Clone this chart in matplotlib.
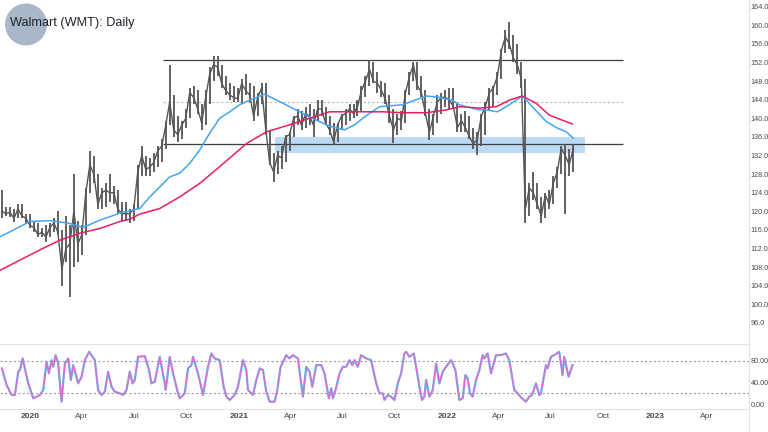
import matplotlib
matplotlib.use('Agg')
import matplotlib.pyplot as plt
import numpy as np
import pandas as pd
from matplotlib.patches import Ellipse
from matplotlib.lines import Line2D
from matplotlib.ticker import FormatStrFormatter

# ---------------- data (weekly bars) ----------------
first_week = '2019-11-13'

high = [
    124.5, 121, 121, 120.5, 121.5, 121.5, 119.5, 119.5,
    118, 117.5, 116.5, 117, 117.5, 118.5, 120, 116,
    119, 117, 128, 118, 117, 125, 133, 132,
    128, 125, 126, 128, 125.5, 124.5, 122, 122,
    120.5, 121.5, 130, 134, 132, 131.5, 132.5, 134,
    135.5, 139.5, 151.5, 145, 140.5, 139.5, 142, 146.5,
    147, 146, 143, 146, 151, 153.5, 153.5, 151.5,
    149, 147.5, 147, 146.5, 148.5, 149.5, 147.5, 147,
    145.5, 147.5, 147.5, 137.5, 132.5, 133, 134, 136.5,
    137, 140.5, 142, 141.5, 142.5, 143, 142, 144,
    144, 142.5, 140.5, 139, 139, 141, 142, 143,
    143, 144, 147, 149, 152.5, 152, 150, 148,
    147.5, 145, 142, 141, 141.5, 146, 150, 152,
    152, 149, 146, 142, 141, 145, 145.5, 146,
    146.5, 146.5, 143, 141, 141.5, 140.5, 138, 137,
    141, 143.5, 146.5, 147, 150, 155, 159, 160.8,
    158, 156, 152, 148.5, 126, 128.5, 126, 123,
    124, 124.5, 127.5, 129.5, 134, 134.5, 133.5, 134.5,
]
low = [
    118.5, 119, 118.8, 117.8, 118.5, 118.5, 117.5, 116.5,
    115.5, 114.5, 114.5, 113.5, 114.5, 115.5, 115, 104,
    109, 101.6, 108, 109, 110.5, 115, 124, 126,
    120.5, 120.5, 121, 122, 121.5, 119.5, 118, 118,
    117.5, 118, 120.5, 127.5, 127.5, 127.5, 128.5, 129.5,
    130.5, 133.5, 138.5, 136, 135, 135.5, 138, 140,
    143, 141, 137.5, 138.5, 143, 148, 149, 146.5,
    145, 144, 143.5, 143.5, 143, 145, 143.5, 139.5,
    140.5, 143, 136.5, 130, 126.3, 128, 129, 130.5,
    133, 136, 138.5, 137.5, 138, 138.5, 135.9, 139.5,
    140.5, 138.5, 136.5, 134.3, 135, 137.5, 138.5, 139.5,
    140, 140.5, 141.5, 144.5, 147, 147.5, 145.5, 144.5,
    143, 139, 134.7, 136.5, 137.5, 139, 145, 148,
    146, 144.5, 140.5, 135.3, 136.5, 139, 141, 142.5,
    142, 142, 137, 137, 137, 135.5, 133.5, 132.1,
    134, 136.5, 141.5, 142.5, 145, 148.5, 154, 155,
    152, 149.5, 146.5, 117.5, 119, 122.5, 120.5, 117.5,
    118.5, 120.5, 121.5, 125, 128, 119.5, 127.5, 128.5,
]
close = [
    120, 119.5, 119.8, 118.5, 120.5, 119, 118.5, 117,
    116.5, 115, 115.5, 114.5, 116.5, 117.5, 115.5, 107.5,
    112, 113, 120, 113, 115, 124, 130, 128,
    121.5, 124, 124.5, 124, 124, 120.5, 119.5, 119.5,
    119.5, 120.5, 128.5, 132, 129, 129.5, 130.5, 133,
    134, 138.5, 143.5, 137.5, 136.5, 138.5, 140, 145.5,
    144.5, 142, 139, 144.5, 149.5, 151.5, 151, 147.5,
    146, 145, 144.5, 144.2, 147.5, 146, 145, 140.5,
    144.5, 146.5, 138, 130.5, 128.5, 132, 131.5, 136,
    136.5, 140, 140.5, 138.5, 141, 140.5, 138.5, 142,
    142, 139, 137.5, 135, 138.5, 140.5, 141, 142,
    141, 142.5, 146, 148, 150.5, 148, 147.5, 146,
    144, 140.5, 137.5, 140, 139.5, 145.5, 149, 151.5,
    147, 145.5, 141, 137, 140.5, 143.5, 144.5, 144.5,
    144, 142.5, 138, 139.5, 138, 136, 134.5, 135.5,
    140.5, 142.5, 145.5, 146.5, 149, 154.5, 157.5, 156,
    153, 151.5, 148.5, 120.5, 125, 124, 121.5, 119,
    123.5, 121.5, 126, 128.5, 133.5, 132, 130, 133.5,
]

# moving averages (position in weeks from first_week, value)
ma_fast_week = [-0.5, 7, 12, 13.75, 17, 20.25, 24.5, 29.5, 34.5, 37, 42, 44.5, 47, 49.5,
                52, 54.5, 57, 59.5, 62, 65.75, 69.5, 72, 74.5, 77, 79.5, 82, 85.75, 88.25,
                90.75, 94.5, 100.25, 106.25, 109.5, 112.75, 114.5, 119.5, 121.25, 124, 127,
                130.25, 132.75, 136.25, 139, 141.25, 143]
ma_fast = [114.5, 117.8, 118.0, 117.8, 117.4, 116.5, 118.1, 119.6, 120.6, 123.1, 127.4, 128.2,
           130.3, 133.2, 136.8, 140.0, 141.4, 142.9, 143.9, 145.2, 143.6, 142.5, 141.4, 140.3,
           139.3, 138.3, 137.5, 138.6, 140.3, 142.5, 142.9, 144.8, 144.5, 143.9, 142.9, 141.8,
           141.8, 141.4, 142.9, 144.8, 142.5, 139.3, 137.9, 137.1, 135.7]
ma_slow_week = [-0.5, 4.5, 9.5, 14.5, 19.5, 24.5, 29.5, 32, 34.5, 39.5, 44.5, 49.5, 54.5, 61.25,
                66.25, 72, 77, 82, 87, 95.25, 100.25, 106.25, 111.25, 114.5, 119.5, 123.75, 127,
                130.25, 133.75, 137, 140.25, 142.75]
ma_slow = [107.3, 109.5, 111.7, 113.8, 115.3, 116.3, 117.8, 118.3, 119.4, 120.6, 123.1, 126.0,
           129.6, 134.6, 137.1, 138.6, 140.0, 141.4, 141.4, 141.4, 141.2, 141.2, 141.8, 142.5,
           142.2, 142.5, 143.9, 144.8, 143.2, 140.7, 139.6, 138.8]

# stochastic oscillator
stoch_week = [0, 1.17, 2.42, 3.25, 4.08, 4.5, 5.17, 6.58, 7.83, 9.5, 10.33, 11.17, 11.75, 12.42,
              12.83, 13.42, 14.08, 14.92, 15.75, 16.58, 17.25, 17.83, 19.08, 19.92, 20.75, 21.83,
              23.25, 24.08, 24.92, 25.75, 26.58, 27.42, 28.25, 29.5, 30.33, 31.17, 32, 32.67,
              33.25, 34.08, 35.75, 36.83, 37.42, 38.25, 39.5, 40.75, 41, 42, 42.83, 44.08, 44.5,
              45.75, 46.58, 47.42, 47.83, 49.08, 50.33, 51.58, 52.42, 53.25, 54.5, 55.5, 56.17,
              57, 58.25, 59.08, 60.33, 61.17, 61.58, 62.83, 63.67, 64.5, 65.33, 66.17, 67, 68.25,
              68.92, 69.75, 71.17, 72, 72.83, 74.08,
              75.33, 76.17, 77, 77.67, 78.67, 79.92, 80.75, 81.83, 82.42, 82.83, 83.5, 84.5,
              85.33, 86.17, 87, 87.67, 88.25, 89.08, 89.92, 91.17, 92.42, 93.67, 94.5, 95.33,
              95.75, 96.58, 97.42, 98.25, 99.08, 99.92, 100.75, 101.17, 102, 103.08, 103.67,
              104.5, 105.17, 105.75, 106.17, 107, 107.83, 108.67, 109.5, 110.33, 111.17, 112.42,
              112.83, 113.5, 114.5, 115.33, 116, 116.58, 117.17, 117.83, 118.67, 119.5, 120.33,
              120.75, 121.58, 122.42, 123.67, 124.92, 126.17, 127, 128.25, 129.08, 130.17,
              131.17, 132, 132.67, 133.67, 134.5, 134.92, 136.17, 136.58, 137.42, 138.25, 139.5,
              140.33, 140.75, 141.83, 142.83]
stoch_k = [65.9, 35.3, 17.0, 17.0, 59.8, 62.9, 84.3, 38.4, 10.8, 17.0, 26.1, 78.2, 56.7, 81.2,
           69.0, 90.4, 75.1, 4.7, 75.1, 84.3, 44.5, 72.0, 38.4, 50.6, 81.2, 96.5,
           81.2, 26.1, 17.0, 23.1, 59.8, 32.3, 23.1, 20.0, 17.0, 26.1, 59.8, 38.4,
           44.5, 87.3, 88.6, 62.9, 38.4, 41.4, 87.3, 38.4, 26.1, 87.3, 56.7, 20.0, 10.8,
           20.0, 65.9, 72.0, 87.3, 56.7, 17.0, 69.0, 93.5, 84.3, 81.2, 32.3, 13.9,
           7.8, 17.0, 32.3, 81.2, 62.9, 26.1, 17.0, 44.5, 65.9, 62.9, 23.1, 4.7, 4.7,
           26.1, 69.0, 90.4, 84.3, 90.4, 84.3,
           13.9, 69.0, 59.8, 32.3, 72.0, 72.0, 56.7, 10.8, 29.2, 10.8, 26.1, 56.7,
           69.0, 69.0, 81.2, 72.0, 81.2, 69.0, 90.4, 84.3, 81.2, 38.4, 20.0, 20.0,
           7.8, 17.0, 13.9, 7.8, 38.4, 56.7, 93.5, 96.5, 87.3, 93.5, 69.0,
           32.3, 7.8, 13.9, 44.5, 13.9, 26.1, 75.1, 38.4, 59.8, 69.0, 81.2,
           75.1, 62.9, 7.8, 10.8, 53.7, 47.6, 20.0, 13.9, 44.5, 62.9, 90.4,
           84.3, 93.5, 56.7, 90.4, 90.4, 93.5, 81.2, 26.1, 20.0, 10.8,
           4.7, 13.9, 17.0, 38.4, 17.0, 20.0, 72.0, 65.9, 87.3, 90.4, 96.5,
           53.7, 87.3, 50.6, 72.0]

resistance = 152.5
support = 134.5
midline = 143.6
lines_start, lines_end = '2020-08-21', '2022-11-05'
zone_low, zone_high = 132.5, 135.9
zone_start, zone_end = '2021-03-06', '2022-08-31'

y_ticks = list(range(96, 165, 4))
stoch_ticks = [0, 40, 80]
stoch_levels = [80, 20]
x_tick_dates = ['2020-01-01', '2020-04-01', '2020-07-01', '2020-10-01',
                '2021-01-01', '2021-04-01', '2021-07-01', '2021-10-01',
                '2022-01-01', '2022-04-01', '2022-07-01', '2022-10-01',
                '2023-01-01', '2023-04-01']
x_tick_labels = ['2020', 'Apr', 'Jul', 'Oct', '2021', 'Apr', 'Jul', 'Oct',
                 '2022', 'Apr', 'Jul', 'Oct', '2023', 'Apr']
title = 'Walmart (WMT): Daily'

# ---------------- figure ----------------
fig = plt.figure(figsize=(7.68, 4.32), dpi=100)
fig.patch.set_facecolor('white')

def fx(px):
    return px / 768.0

def fy(py):
    return 1 - py / 432.0

ax1 = fig.add_axes([0, fy(343), fx(749), 343 / 432.0])
ax2 = fig.add_axes([0, fy(409), fx(749), (409 - 344) / 432.0])

base = pd.Timestamp(first_week)

def wk(w):
    return base + pd.to_timedelta(np.asarray(w, dtype=float) * 7, unit='D')

dates = wk(np.arange(len(high)))
bar_col = '#555555'

# zone box
ax1.fill_between(pd.to_datetime([zone_start, zone_end]), zone_low, zone_high,
                 color='#bcdaf6', lw=0, zorder=1)
# horizontal levels
ls, le = pd.Timestamp(lines_start), pd.Timestamp(lines_end)
ax1.hlines([resistance, support], ls, le, color='#3f3f3f', lw=0.9, zorder=2)
ax1.hlines(midline, ls, le, color='#b8b8b8', lw=0.8, linestyles=(0, (2, 2)), zorder=2)

# price bars
ax1.vlines(dates, low, high, color=bar_col, lw=1.3, zorder=3)
ax1.plot(dates, close, color=bar_col, lw=1.0, zorder=3)

# moving averages
ax1.plot(wk(ma_fast_week), ma_fast, color='#42a5f5', lw=1.1, zorder=4)
ax1.plot(wk(ma_slow_week), ma_slow, color='#e91e63', lw=1.1, zorder=4)

xl = (pd.Timestamp('2019-11-09 14:00'), pd.Timestamp('2023-06-14'))
ax1.set_xlim(xl)
ax1.set_ylim(91.68, 165.44)
ax1.yaxis.tick_right()
ax1.set_yticks(y_ticks)
ax1.yaxis.set_major_formatter(FormatStrFormatter('%.1f'))
ax1.tick_params(axis='y', length=0, pad=1.2, labelsize=5.2, labelcolor='#4a4a4a')
ax1.tick_params(axis='x', bottom=False, labelbottom=False)
for s in ['top', 'left', 'bottom']:
    ax1.spines[s].set_visible(False)
ax1.spines['right'].set_color('#dfe2ea')
ax1.spines['right'].set_linewidth(0.8)

# stochastic
ax2.plot(wk(stoch_week), stoch_k, color='#64b5f6', lw=1.6, zorder=3)
ax2.plot(wk(stoch_week), stoch_k, color='#e46bc8', lw=0.9, zorder=4)
for lv in stoch_levels:
    ax2.axhline(lv, color='#9e9e9e', lw=0.8, ls=(0, (2, 2)), zorder=1)
ax2.set_xlim(xl)
ax2.set_ylim(-8.8, 110.9)
ax2.yaxis.tick_right()
ax2.set_yticks(stoch_ticks)
ax2.yaxis.set_major_formatter(FormatStrFormatter('%.2f'))
ax2.tick_params(axis='y', length=0, pad=1.2, labelsize=5.2, labelcolor='#4a4a4a')
ax2.set_xticks(pd.to_datetime(x_tick_dates))
ax2.set_xticklabels(x_tick_labels)
ax2.tick_params(axis='x', length=0, pad=3, labelsize=6, labelcolor='#4a4a4a')
for lab in ax1.get_yticklabels() + ax2.get_yticklabels() + ax2.get_xticklabels():
    lab.set_family('Liberation Sans')
for lab in ax2.get_xticklabels():
    if lab.get_text().isdigit():
        lab.set_fontweight('bold')
ax2.spines['left'].set_visible(False)
for s in ['top', 'bottom', 'right']:
    ax2.spines[s].set_color('#dfe2ea')
    ax2.spines[s].set_linewidth(0.8)

# separator line continuing to the bottom
fig.add_artist(Line2D([fx(749), fx(749)], [0, 1], transform=fig.transFigure,
                      color='#dfe2ea', lw=0.8))

# logo + title
fig.add_artist(Ellipse((fx(26), fy(24.5)), width=fx(42), height=42 / 432.0,
                       transform=fig.transFigure, facecolor='#a9b8c8', edgecolor='none'))
fig.text(fx(10), fy(23), title, fontsize=9.2, color='#1f2330', va='center', ha='left',
         family='Liberation Sans')

fig.savefig('out.png', dpi=100)
